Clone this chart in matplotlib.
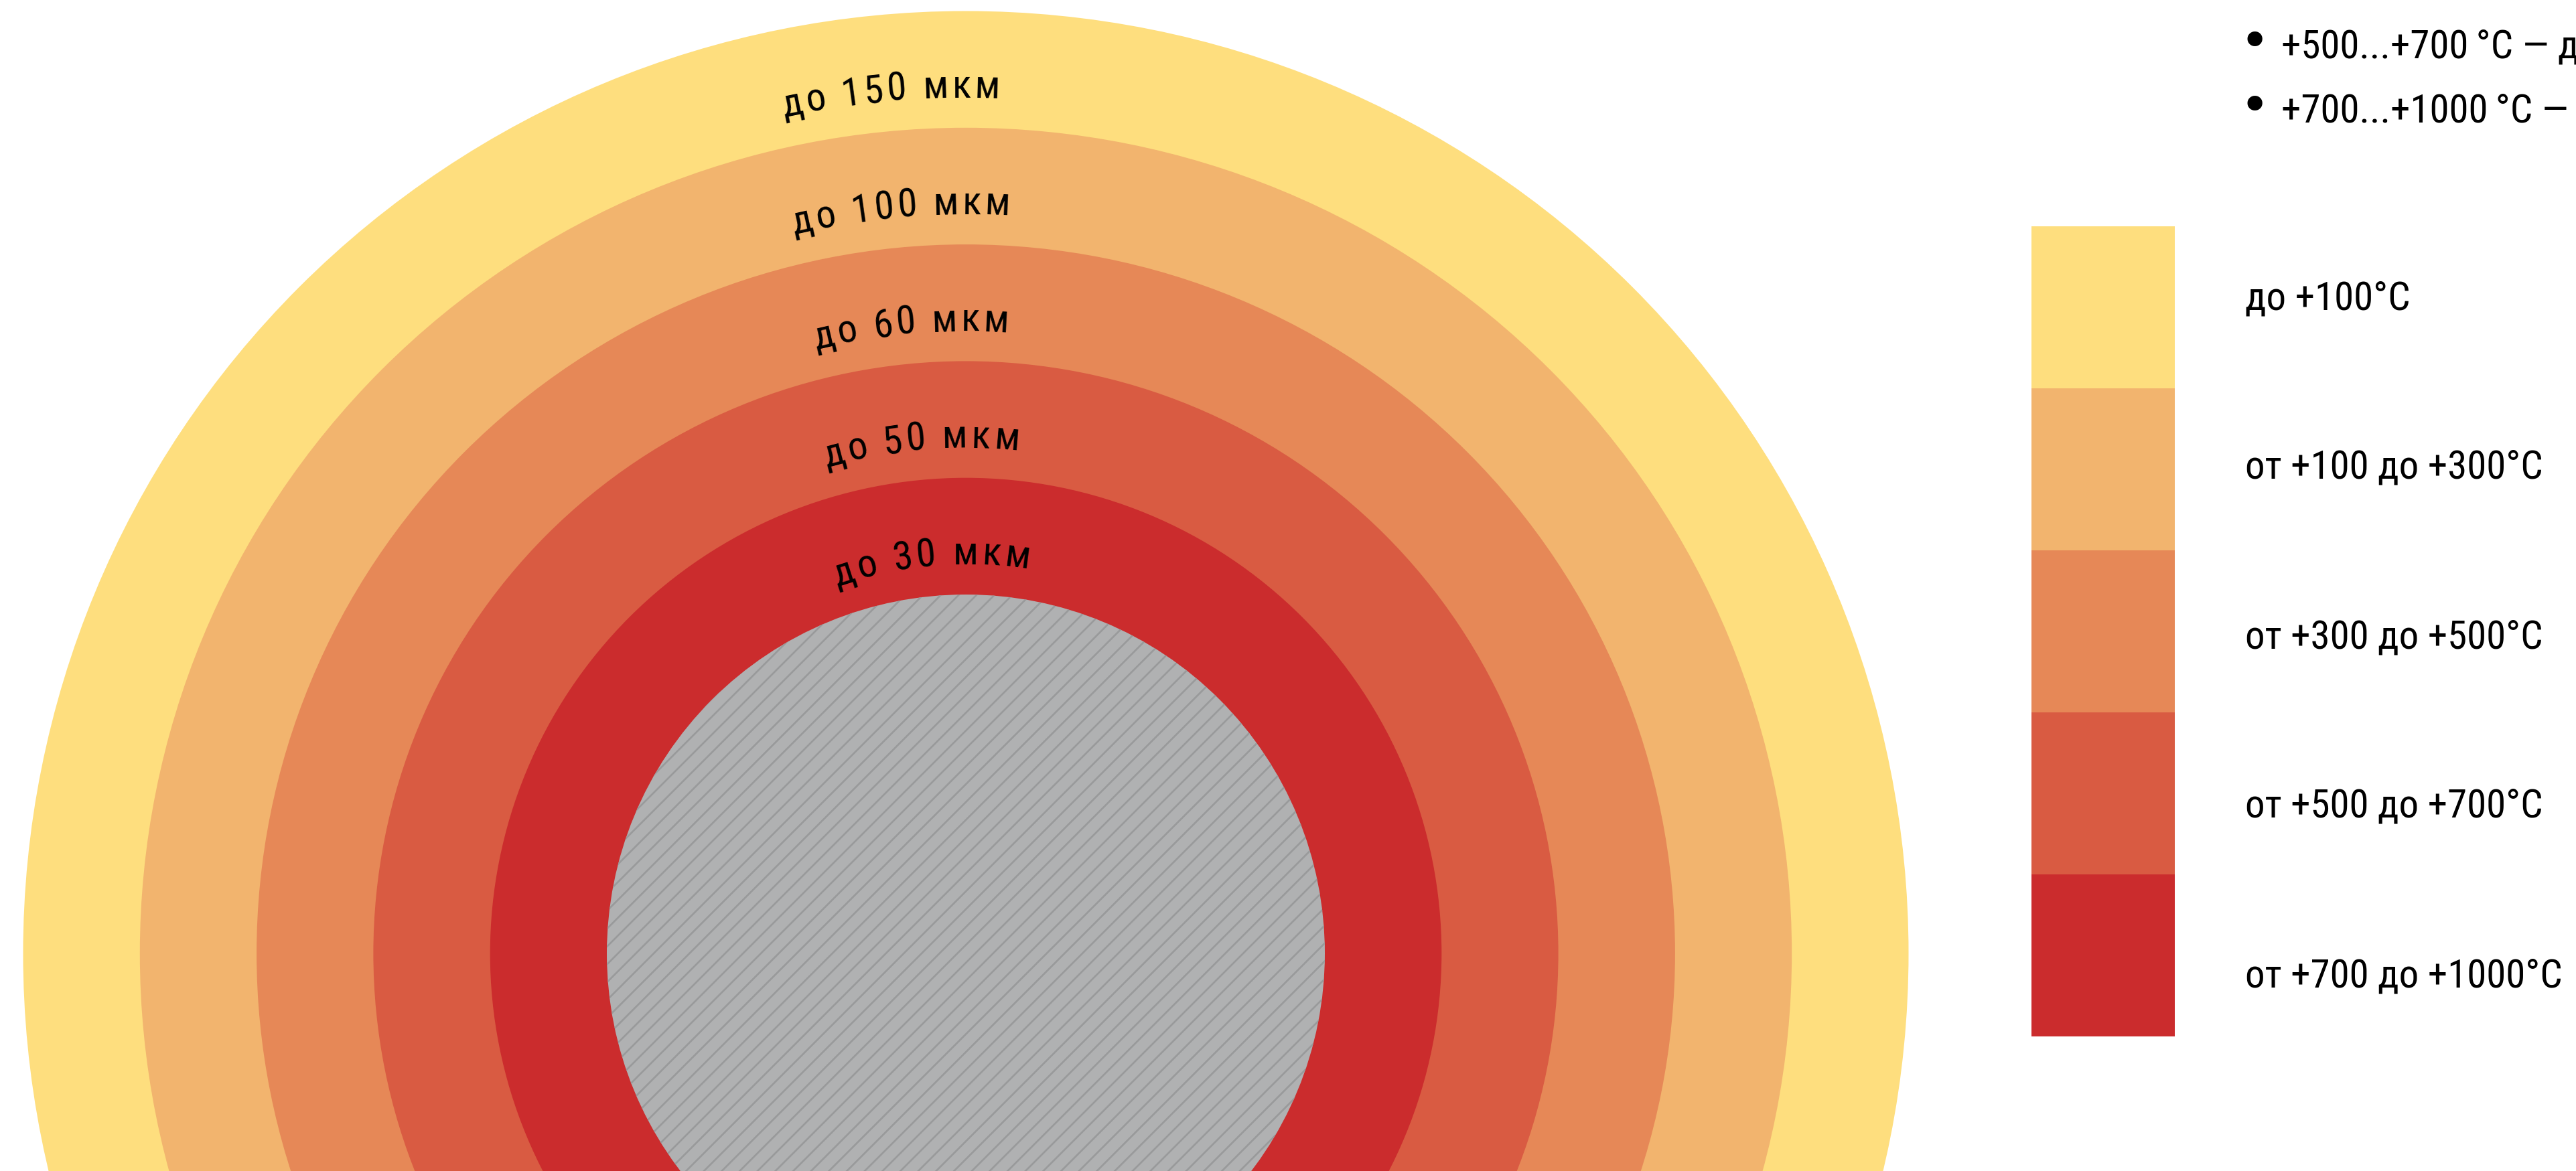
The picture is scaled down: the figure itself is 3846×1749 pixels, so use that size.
import numpy as np
import matplotlib
matplotlib.use("Agg")
import matplotlib.pyplot as plt
from matplotlib.patches import Circle, Rectangle
from matplotlib import font_manager

# Данные
ring_labels = ["до 150 мкм", "до 100 мкм", "до 60 мкм", "до 50 мкм", "до 30 мкм"]
ring_colors = ["#FEDE7E", "#F2B46E", "#E68857", "#D95B42", "#CB2C2D"]
legend_labels = ["до +100°C", "от +100 до +300°C", "от +300 до +500°C",
                 "от +500 до +700°C", "от +700 до +1000°C"]
bullet_lines = ["+500...+700\u2009°C — до 50 мкм", "+700...+1000\u2009°C — до 30 мкм"]
core_color = "#B0B1B2"
hatch_color = "#999A9B"

W, H, DPI = 3846, 1749, 80

# Шрифт
names = {f.name for f in font_manager.fontManager.ttflist}
main_font = next(n for n in ["DIN Pro", "Roboto Condensed", "Roboto", "DejaVu Sans"] if n in names)
plt.rcParams["font.family"] = [main_font, "DejaVu Sans"]
plt.rcParams["hatch.linewidth"] = 2.4
FS = 53

fig = plt.figure(figsize=(W / DPI, H / DPI), dpi=DPI, facecolor="white")
ax = fig.add_axes([0, 0, 1, 1])
ax.set_xlim(0, W)
ax.set_ylim(H, 0)
ax.axis("off")

# Кольца
cx, cy = 1442, 1424
r_core = 536
step = 174.3
n = len(ring_colors)
for i, color in enumerate(ring_colors):
    r = r_core + step * (n - i)
    ax.add_patch(Circle((cx, cy), r, facecolor=color, linewidth=0))
ax.add_patch(Circle((cx, cy), r_core, facecolor=core_color, edgecolor=hatch_color,
                    hatch="/", linewidth=0))

# Подписи по дуге
renderer = fig.canvas.get_renderer()
prop = font_manager.FontProperties(family=plt.rcParams["font.family"], size=FS)


def text_w(s):
    if not s:
        return 0.0
    w, h, d = renderer.get_text_width_height_descent(s, prop, ismath=False)
    return w


def arc_text(s, r, theta0, tracking=5.0):
    adv = [text_w(s[:k + 1]) - text_w(s[:k]) for k in range(len(s))]
    total = sum(adv) + tracking * (len(s) - 1)
    pos = 0.0
    for k, ch in enumerate(s):
        c = pos + adv[k] / 2
        pos += adv[k] + tracking
        a = theta0 + (c - total / 2) / r
        x = cx + r * np.sin(a)
        y = cy - r * np.cos(a)
        ax.text(x, y, ch, fontsize=FS, color="black", ha="center", va="baseline",
                rotation=-np.degrees(a), rotation_mode="anchor")


for i, lab in enumerate(ring_labels):
    r_inner = r_core + step * (n - 1 - i)
    arc_text(lab, r_inner + 45, np.radians(-5))

# Легенда
box_x, box_top, box_w, box_h = 3033, 338, 214, 242
for i, (color, lab) in enumerate(zip(ring_colors, legend_labels)):
    ax.add_patch(Rectangle((box_x, box_top + box_h * i), box_w, box_h,
                           facecolor=color, linewidth=0))
    ax.text(3352, 462 + 253 * i, lab, fontsize=FS, color="black",
            ha="left", va="baseline")

# Список вверху справа
for i, line in enumerate(bullet_lines):
    y = 86 + 96 * i
    ax.text(3366, y, "•", fontsize=FS * 1.3, color="black", ha="center", va="baseline",
            family="DejaVu Sans")
    ax.text(3406, y, line, fontsize=FS, color="black", ha="left", va="baseline")

fig.savefig("out.png", dpi=DPI, facecolor="white")
